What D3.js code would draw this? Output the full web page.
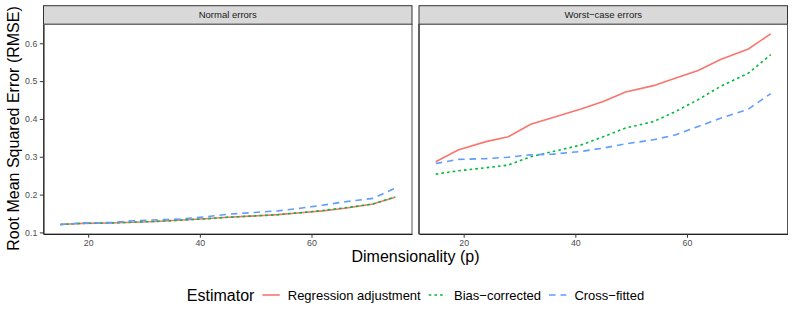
<!DOCTYPE html>
<html lang="en">
<head>
<meta charset="UTF-8">
<title>RMSE by dimensionality</title>
<script src="https://d3js.org/d3.v7.min.js"></script>
<style>
  body { margin: 0; background: #fff; }
  svg { display: block; font-family: "Liberation Sans", Arial, sans-serif; }
  .tick-label { font-size: 8.8px; fill: #4d4d4d; }
  .strip-text { font-size: 9.5px; fill: #1a1a1a; }
  .axis-title { font-size: 16px; fill: #000; }
  .legend-label { font-size: 13px; fill: #000; }
</style>
</head>
<body>
<svg id="chart" width="793" height="317"></svg>
<script>
// dimensionality values on the x axis
const dims = [15, 19, 24, 28, 32, 36, 41, 45, 49, 54, 58, 62, 66, 71, 75];

// RMSE, normal errors
const normalRegAdj   = [0.121, 0.124, 0.125, 0.127, 0.129, 0.132, 0.136, 0.140, 0.143, 0.147, 0.152, 0.157, 0.164, 0.175, 0.193];
const normalBiasCorr = [0.121, 0.124, 0.125, 0.127, 0.129, 0.132, 0.136, 0.140, 0.143, 0.147, 0.152, 0.158, 0.165, 0.175, 0.194];
const normalCross    = [0.121, 0.125, 0.126, 0.131, 0.133, 0.135, 0.141, 0.148, 0.152, 0.157, 0.164, 0.172, 0.181, 0.190, 0.217];

// RMSE, worst-case errors
const worstRegAdj   = [0.287, 0.318, 0.340, 0.353, 0.386, 0.404, 0.426, 0.446, 0.471, 0.488, 0.508, 0.528, 0.557, 0.585, 0.625];
const worstBiasCorr = [0.254, 0.263, 0.271, 0.278, 0.300, 0.314, 0.331, 0.353, 0.376, 0.393, 0.420, 0.451, 0.486, 0.521, 0.570];
const worstCross    = [0.282, 0.293, 0.295, 0.299, 0.305, 0.307, 0.314, 0.323, 0.334, 0.345, 0.358, 0.380, 0.402, 0.426, 0.467];

const panelNames = ["Normal errors", "Worst\u2212case errors"];
const estimators = ["Regression adjustment", "Bias\u2212corrected", "Cross\u2212fitted"];
const xTicks = [20, 40, 60];
const yTicks = [0.1, 0.2, 0.3, 0.4, 0.5, 0.6];

const colors = ["#F8766D", "#00BA38", "#619CFF"];
const dashes = [null, "2.6,3.1", "6.5,4.9"];

const panelData = [
  [normalRegAdj, normalBiasCorr, normalCross],
  [worstRegAdj, worstBiasCorr, worstCross]
];

const svg = d3.select("#chart");

const panelW = 368.5;
const panelX = [43.5, 419];
const stripTop = 5.7, stripBottom = 24.3, panelBottom = 234;

// ggplot-style 5% expansion
const expand = ([a, b]) => [a - (b - a) * 0.05, b + (b - a) * 0.05];
const allY = panelData.flat(2);
const yDomain = expand(d3.extent(allY));
const xDomain = expand(d3.extent(dims));

const y = d3.scaleLinear().domain(yDomain).range([panelBottom, stripBottom]);

panelNames.forEach((name, pi) => {
  const x0 = panelX[pi];
  const x = d3.scaleLinear().domain(xDomain).range([x0, x0 + panelW]);
  const g = svg.append("g");

  // strip
  g.append("rect")
    .attr("x", x0).attr("y", stripTop)
    .attr("width", panelW).attr("height", stripBottom - stripTop)
    .attr("fill", "#d9d9d9").attr("stroke", "#333").attr("stroke-width", 1);
  g.append("text")
    .attr("class", "strip-text")
    .attr("x", x0 + panelW / 2).attr("y", (stripTop + stripBottom) / 2)
    .attr("dy", "0.35em").attr("text-anchor", "middle")
    .text(name);

  // panel
  g.append("rect")
    .attr("x", x0).attr("y", stripBottom)
    .attr("width", panelW).attr("height", panelBottom - stripBottom)
    .attr("fill", "#fff").attr("stroke", "#555").attr("stroke-width", 1);

  // lines
  const line = d3.line().x((d, i) => x(dims[i])).y(d => y(d));
  panelData[pi].forEach((series, si) => {
    g.append("path")
      .datum(series)
      .attr("d", line)
      .attr("fill", "none")
      .attr("stroke", colors[si])
      .attr("stroke-width", 1.6)
      .attr("stroke-dasharray", dashes[si]);
  });

  // x axis
  const xAxis = g.append("g")
    .attr("transform", `translate(0,${panelBottom})`)
    .call(d3.axisBottom(x).tickValues(xTicks).tickSize(3.7).tickPadding(2).tickSizeOuter(0));
  xAxis.select(".domain").attr("stroke", "#222").attr("stroke-width", 1.1);
  xAxis.selectAll(".tick line").attr("stroke", "#333");
  xAxis.selectAll(".tick text").attr("class", "tick-label").attr("font-size", null).attr("font-family", null);

  // y axis only on the first panel
  if (pi === 0) {
    const yAxis = g.append("g")
      .attr("transform", `translate(${x0},0)`)
      .call(d3.axisLeft(y).tickValues(yTicks).tickFormat(d3.format(".1f")).tickSize(3.7).tickPadding(2.5).tickSizeOuter(0));
    yAxis.select(".domain").attr("stroke", "#222").attr("stroke-width", 1.1);
    yAxis.selectAll(".tick line").attr("stroke", "#333");
    yAxis.selectAll(".tick text").attr("class", "tick-label").attr("font-size", null).attr("font-family", null);
  } else {
    g.append("line")
      .attr("x1", x0).attr("x2", x0)
      .attr("y1", stripBottom).attr("y2", panelBottom)
      .attr("stroke", "#222").attr("stroke-width", 1.1);
  }
});

// axis titles
const plotCenter = (panelX[0] + panelX[1] + panelW) / 2;
svg.append("text")
  .attr("class", "axis-title")
  .attr("x", plotCenter).attr("y", 261.5)
  .attr("text-anchor", "middle")
  .text("Dimensionality (p)");

svg.append("text")
  .attr("class", "axis-title")
  .attr("transform", "translate(19,128.5) rotate(-90)")
  .attr("text-anchor", "middle")
  .text("Root Mean Squared Error (RMSE)");

// legend
const legendY = 295;
const legend = svg.append("g");
const keyW = 17.3, gap = 8;
let cx = 0;
const title = legend.append("text")
  .attr("class", "axis-title")
  .attr("x", cx).attr("y", legendY).attr("dy", "0.35em")
  .text("Estimator");
cx += title.node().getComputedTextLength() + gap;
estimators.forEach((name, i) => {
  legend.append("line")
    .attr("x1", cx).attr("x2", cx + keyW)
    .attr("y1", legendY).attr("y2", legendY)
    .attr("stroke", colors[i]).attr("stroke-width", 1.6)
    .attr("stroke-dasharray", dashes[i]);
  cx += keyW + gap;
  const t = legend.append("text")
    .attr("class", "legend-label")
    .attr("x", cx).attr("y", legendY).attr("dy", "0.35em")
    .text(name);
  cx += t.node().getComputedTextLength() + gap;
});
const legendW = cx - gap;
legend.attr("transform", `translate(${plotCenter - legendW / 2},0)`);
</script>
</body>
</html>
